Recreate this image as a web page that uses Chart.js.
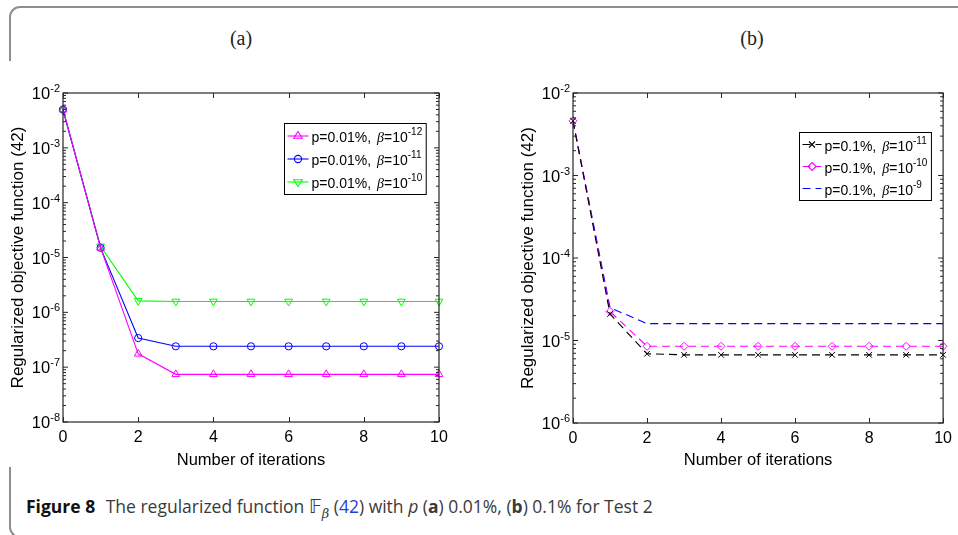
<!DOCTYPE html>
<html>
<head>
<meta charset="utf-8">
<title>Figure 8</title>
<script src="https://cdn.jsdelivr.net/npm/chart.js@4.4.1/dist/chart.umd.min.js"></script>
<style>
  html, body { margin: 0; padding: 0; background: #fff; }
  #page { position: relative; width: 958px; height: 535px; overflow: hidden;
          font-family: "Liberation Sans", Arial, sans-serif; }
  .frame-top { position: absolute; left: 9px; top: 6px; width: 970px; height: 55px;
               border-top: 2px solid #8e8e8e; border-left: 2px solid #8e8e8e;
               border-top-left-radius: 11px; box-sizing: border-box; }
  .frame-bottom { position: absolute; left: 9px; top: 467px; width: 970px; height: 71px;
                  border-bottom: 2px solid #8e8e8e; border-left: 2px solid #8e8e8e;
                  border-bottom-left-radius: 11px; box-sizing: border-box; }
  .panel-label { position: absolute; top: 27px; width: 60px; margin-left: -30px; text-align: center;
                 font-family: "Liberation Serif", "DejaVu Serif", serif; font-size: 20px; color: #222; }
  .plot { position: absolute; top: 80px; height: 400px; }
  .plot canvas { display: block; }
  #caption { position: absolute; left: 26px; top: 494px; white-space: nowrap;
             font-family: "Open Sans", "Noto Sans", sans-serif; font-size: 17.5px; color: #3a3a3a; }
  #caption .fig { font-weight: 700; color: #111; margin-right: 6px; }
  #caption .ref { color: #2a3fd0; }
  #caption .ds { font-family: "DejaVu Sans", "Noto Sans", sans-serif; font-size: 19px; }
  #caption sub { font-style: italic; font-size: 13px; font-family: "DejaVu Serif", serif; }
</style>
</head>
<body>
<div id="page">
  <div class="frame-top"></div>
  <div class="frame-bottom"></div>
  <div class="panel-label" style="left:241px">(a)</div>
  <div class="panel-label" style="left:752px">(b)</div>
  <div class="plot" style="left:0px;width:470px"><canvas id="chartA" width="470" height="400"></canvas></div>
  <div class="plot" style="left:480px;width:478px"><canvas id="chartB" width="478" height="400"></canvas></div>
  <div id="caption"><span class="fig">Figure 8</span> The regularized function <span class="ds">𝔽</span><sub>β</sub> (<span class="ref">42</span>) with <i>p</i> (<b>a</b>) 0.01%, (<b>b</b>) 0.1% for Test 2</div>
</div>

<script>
// ---- data ----
const iterations = [0, 1, 2, 3, 4, 5, 6, 7, 8, 9, 10];
const xTickValues = [0, 2, 4, 6, 8, 10];
const yDecadesA = [-8, -7, -6, -5, -4, -3, -2];
const yDecadesB = [-6, -5, -4, -3, -2];

// panel (a): p = 0.01%
const pLabelA = 'p=0.01%,';
const betaExpA = ['-12', '-11', '-10'];
const objA_beta1e12 = [5.0e-3, 1.5e-5, 1.75e-7, 7.4e-8, 7.4e-8, 7.4e-8, 7.4e-8, 7.4e-8, 7.4e-8, 7.4e-8, 7.4e-8];
const objA_beta1e11 = [5.0e-3, 1.5e-5, 3.4e-7, 2.4e-7, 2.4e-7, 2.4e-7, 2.4e-7, 2.4e-7, 2.4e-7, 2.4e-7, 2.4e-7];
const objA_beta1e10 = [4.8e-3, 1.6e-5, 1.62e-6, 1.58e-6, 1.58e-6, 1.58e-6, 1.58e-6, 1.58e-6, 1.58e-6, 1.58e-6, 1.58e-6];

// panel (b): p = 0.1%
const pLabelB = 'p=0.1%,';
const betaExpB = ['-11', '-10', '-9'];
const objB_beta1e11 = [4.6e-3, 2.1e-5, 6.9e-6, 6.7e-6, 6.7e-6, 6.7e-6, 6.7e-6, 6.7e-6, 6.7e-6, 6.7e-6, 6.7e-6];
const objB_beta1e10 = [4.6e-3, 2.25e-5, 8.5e-6, 8.5e-6, 8.5e-6, 8.5e-6, 8.5e-6, 8.5e-6, 8.5e-6, 8.5e-6, 8.5e-6];
const objB_beta1e9  = [4.6e-3, 2.5e-5, 1.6e-5, 1.6e-5, 1.6e-5, 1.6e-5, 1.6e-5, 1.6e-5, 1.6e-5, 1.6e-5, 1.6e-5];

const SANS = '"Liberation Sans", Arial, Helvetica, sans-serif';
const AXIS_COLOR = '#262626';

// ---- marker drawing for the legend samples ----
function drawMarker(ctx, style, r, rot, x, y) {
  ctx.save();
  ctx.translate(x, y);
  ctx.rotate(rot * Math.PI / 180);
  ctx.beginPath();
  if (style === 'circle') {
    ctx.arc(0, 0, r, 0, Math.PI * 2);
  } else if (style === 'triangle') {
    const h = r * 1.5;
    ctx.moveTo(0, -r);
    ctx.lineTo(r * 0.95, h - r);
    ctx.lineTo(-r * 0.95, h - r);
    ctx.closePath();
  } else if (style === 'rectRot') {
    ctx.moveTo(0, -r); ctx.lineTo(r, 0); ctx.lineTo(0, r); ctx.lineTo(-r, 0); ctx.closePath();
  } else if (style === 'crossRot') {
    const d = r * 0.75;
    ctx.moveTo(-d, -d); ctx.lineTo(d, d); ctx.moveTo(d, -d); ctx.lineTo(-d, d);
  } else if (style === false || style === 'none') {
    ctx.restore();
    return;
  }
  ctx.stroke();
  ctx.restore();
}

// ---- box axes, inward ticks, power-of-ten labels and legend ----
const matlabAxes = {
  id: 'matlabAxes',
  afterDatasetsDraw(chart, args, opts) {
    const ctx = chart.ctx;
    const a = chart.chartArea;
    const xs = chart.scales.x, ys = chart.scales.y;
    ctx.save();
    ctx.strokeStyle = AXIS_COLOR;
    ctx.lineWidth = 1.2;
    ctx.strokeRect(a.left, a.top, a.right - a.left, a.bottom - a.top);

    ctx.lineWidth = 1;
    ctx.beginPath();
    // x ticks on bottom and top
    xTickValues.forEach(v => {
      const px = Math.round(xs.getPixelForValue(v)) + 0.5;
      ctx.moveTo(px, a.bottom); ctx.lineTo(px, a.bottom - 5);
      ctx.moveTo(px, a.top); ctx.lineTo(px, a.top + 5);
    });
    // y major + minor ticks on left and right
    const dec = opts.decades;
    dec.forEach((e, i) => {
      const py = ys.getPixelForValue(Math.pow(10, e));
      ctx.moveTo(a.left, py); ctx.lineTo(a.left + 5, py);
      ctx.moveTo(a.right, py); ctx.lineTo(a.right - 5, py);
      if (i < dec.length - 1) {
        for (let m = 2; m <= 9; m++) {
          const pm = ys.getPixelForValue(m * Math.pow(10, e));
          ctx.moveTo(a.left, pm); ctx.lineTo(a.left + 3, pm);
          ctx.moveTo(a.right, pm); ctx.lineTo(a.right - 3, pm);
        }
      }
    });
    ctx.stroke();

    // y tick labels 10^e
    ctx.fillStyle = '#000';
    ctx.textBaseline = 'alphabetic';
    dec.forEach(e => {
      const py = ys.getPixelForValue(Math.pow(10, e));
      const expTxt = String(e);
      ctx.font = '11px ' + SANS;
      const ew = ctx.measureText(expTxt).width;
      ctx.textAlign = 'right';
      ctx.fillText(expTxt, a.left - 3, py - 1);
      ctx.font = '16.5px ' + SANS;
      ctx.fillText('10', a.left - 3 - ew, py + 6);
    });

    // legend
    const lg = opts.legend;
    const items = chart.data.datasets.map((ds, i) => ({ ds, exp: lg.exps[i] }));
    const measure = (font, t) => { ctx.font = font; return ctx.measureText(t).width; };
    const fBase = '14px ' + SANS, fBeta = 'italic 14px "Liberation Serif", "DejaVu Serif", serif', fExp = '10px ' + SANS;
    const gap = 6;
    let maxW = 0;
    items.forEach(it => {
      const w = measure(fBase, lg.p) + gap + measure(fBeta, 'β') + measure(fBase, '=10') + measure(fExp, it.exp);
      maxW = Math.max(maxW, w);
    });
    const sample = lg.sample;
    const boxW = 3 + sample + 3 + maxW + 4;
    const boxH = items.length * lg.rowH + 2;
    const x0 = Math.round(a.right - lg.right - boxW) + 0.5;
    const y0 = Math.round(a.top + lg.top) + 0.5;
    ctx.fillStyle = '#fff';
    ctx.fillRect(x0, y0, boxW, boxH);
    ctx.strokeStyle = '#000';
    ctx.lineWidth = 1;
    ctx.strokeRect(x0, y0, boxW, boxH);
    items.forEach((it, i) => {
      const cy = y0 + 1 + lg.rowH * (i + 0.5);
      const ds = it.ds;
      ctx.strokeStyle = ds.borderColor;
      ctx.lineWidth = ds.borderWidth;
      ctx.setLineDash(ds.borderDash || []);
      ctx.beginPath();
      ctx.moveTo(x0 + 3, cy); ctx.lineTo(x0 + 3 + sample, cy);
      ctx.stroke();
      ctx.setLineDash([]);
      if (ds.pointStyle && ds.pointRadius > 0) {
        drawMarker(ctx, ds.pointStyle, ds.pointRadius, ds.pointRotation || 0, x0 + 3 + sample / 2, cy);
      }
      let tx = x0 + 3 + sample + 3;
      const base = cy + 6;
      ctx.fillStyle = '#000';
      ctx.textAlign = 'left';
      ctx.font = fBase; ctx.fillText(lg.p, tx, base); tx += ctx.measureText(lg.p).width + gap;
      ctx.font = fBeta; ctx.fillText('β', tx, base); tx += ctx.measureText('β').width;
      ctx.font = fBase; ctx.fillText('=10', tx, base); tx += ctx.measureText('=10').width;
      ctx.font = fExp; ctx.fillText(it.exp, tx, base - 7);
    });
    ctx.restore();
  }
};

function series(values, color, style, rot, radius, dash) {
  return {
    data: iterations.map((x, i) => ({ x, y: values[i] })),
    borderColor: color,
    backgroundColor: 'rgba(0,0,0,0)',
    borderWidth: 1.1,
    borderDash: dash || [],
    pointStyle: style,
    pointRotation: rot,
    pointRadius: radius,
    pointHoverRadius: radius,
    pointBorderColor: color,
    pointBackgroundColor: 'rgba(0,0,0,0)',
    pointBorderWidth: 1,
    fill: false,
    tension: 0,
    clip: false
  };
}

function makeChart(id, datasets, decades, layoutPad, xAxisHeight, legend) {
  return new Chart(document.getElementById(id), {
    type: 'line',
    data: { datasets },
    plugins: [matlabAxes],
    options: {
      responsive: false,
      animation: false,
      events: [],
      layout: { padding: layoutPad },
      plugins: {
        legend: { display: false },
        tooltip: { enabled: false },
        matlabAxes: { decades, legend }
      },
      scales: {
        x: {
          type: 'linear',
          min: 0, max: 10,
          afterBuildTicks: s => { s.ticks = xTickValues.map(v => ({ value: v })); },
          afterFit: s => { s.height = xAxisHeight; },
          grid: { display: false, drawTicks: false },
          border: { display: false },
          ticks: { color: '#000', font: { family: SANS, size: 16 }, padding: 6, maxRotation: 0 },
          title: { display: true, text: 'Number of iterations', color: '#000',
                   font: { family: SANS, size: 16.5 }, padding: { top: 0, bottom: 10 } }
        },
        y: {
          type: 'logarithmic',
          min: Math.pow(10, decades[0]),
          max: Math.pow(10, decades[decades.length - 1]),
          afterFit: s => { s.width = 63; },
          grid: { display: false, drawTicks: false },
          border: { display: false },
          ticks: { display: false },
          title: { display: true, text: 'Regularized objective function (42)', color: '#000',
                   font: { family: SANS, size: 17 }, padding: { top: 8, bottom: 0 } }
        }
      }
    }
  });
}

makeChart('chartA', [
  series(objA_beta1e12, '#ff00ff', 'triangle', 0, 4.5),
  series(objA_beta1e11, '#0000ff', 'circle', 0, 3.6),
  series(objA_beta1e10, '#00ff00', 'triangle', 180, 4.5)
], yDecadesA, { left: 0, top: 13, right: 31, bottom: 0 }, 58,
   { p: pLabelA, exps: betaExpA, right: 13, top: 30, rowH: 23, sample: 21 });

makeChart('chartB', [
  series(objB_beta1e11, '#000000', 'crossRot', 0, 4, [8, 5]),
  series(objB_beta1e10, '#ff00ff', 'rectRot', 0, 4, [8, 5]),
  series(objB_beta1e9,  '#0000ff', false, 0, 0, [8, 5])
], yDecadesB, { left: 30, top: 13, right: 9, bottom: 0 }, 57,
   { p: pLabelB, exps: betaExpB, right: 12, top: 39, rowH: 22, sample: 19 });
</script>
</body>
</html>
